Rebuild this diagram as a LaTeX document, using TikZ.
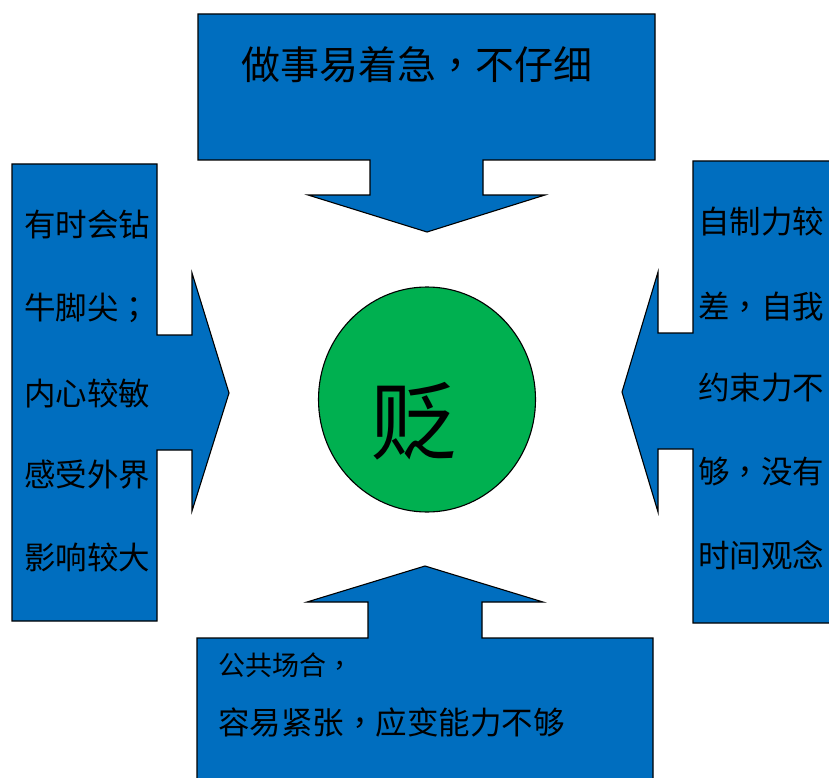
\documentclass[tikz,border=0pt]{standalone}
\usepackage{fontspec}
\setmainfont{Noto Sans CJK SC}
\newfontfamily\cjktc{Noto Sans CJK TC}
\newcommand{\cmm}{{\cjktc ，}}
\newcommand{\scm}{{\cjktc ；}}
\definecolor{boxblue}{HTML}{006EBF}
\definecolor{circgreen}{HTML}{00B050}
\tikzset{
  arrowshape/.style={fill=boxblue, draw=black, line width=1.1pt, line join=miter},
  lbl/.style={inner sep=0pt, anchor=west, text=black},
}
\begin{document}
\begin{tikzpicture}[x=1pt,y=-1pt]
\useasboundingbox (0,0) rectangle (829,778);
\clip (0,0) rectangle (829,778);
% top
\draw[arrowshape] (198,14) -- (655,14) -- (655,160) -- (483,160) -- (483,195) -- (545,195) -- (427,232) -- (308,195) -- (370,195) -- (370,160) -- (198,160) -- cycle;
% left
\draw[arrowshape] (12,164) -- (157,164) -- (157,335) -- (192,335) -- (192,273) -- (229,393) -- (192,511) -- (192,450) -- (157,450) -- (157,621) -- (12,621) -- cycle;
% right
\draw[arrowshape] (693,161) -- (840,161) -- (840,623) -- (693,623) -- (693,449) -- (658,449) -- (658,512) -- (622,392) -- (658,272) -- (658,333) -- (693,333) -- cycle;
% bottom
\draw[arrowshape] (197,790) -- (197,638) -- (368,638) -- (368,602) -- (307,602) -- (425,566) -- (543,602) -- (482,602) -- (482,638) -- (653,638) -- (653,790);
% circle
\draw[fill=circgreen, draw=black, line width=1.1pt] (427,399.5) ellipse [x radius=108.5, y radius=112.5];
\node[inner sep=0pt, font=\fontsize{86}{90}\selectfont] (c) at (413,421) {贬};

\node[lbl, font=\fontsize{39}{44}\selectfont] (t) at (241,65) {做事易着急\cmm 不仔细};

\begin{scope}[every node/.style={lbl, font=\fontsize{31.5}{36}\selectfont}]
\node (l1) at (24,225) {有时会钻};
\node (l2) at (24,308) {牛脚尖\scm};
\node (l3) at (24,393) {内心较敏};
\node (l4) at (24,475) {感受外界};
\node (l5) at (24,557) {影响较大};
\node (r1) at (698,222) {自制力较};
\node (r2) at (698,307) {差\cmm 自我};
\node (r3) at (698,388) {约束力不};
\node (r4) at (698,472) {够\cmm 没有};
\node (r5) at (698,555) {时间观念};
\end{scope}

\node[lbl, font=\fontsize{27}{30}\selectfont] (b1) at (218,665) {公共场合\cmm};
\node[lbl, font=\fontsize{31.5}{36}\selectfont] (b2) at (218,722) {容易紧张\cmm 应变能力不够};
\end{tikzpicture}
\end{document}
